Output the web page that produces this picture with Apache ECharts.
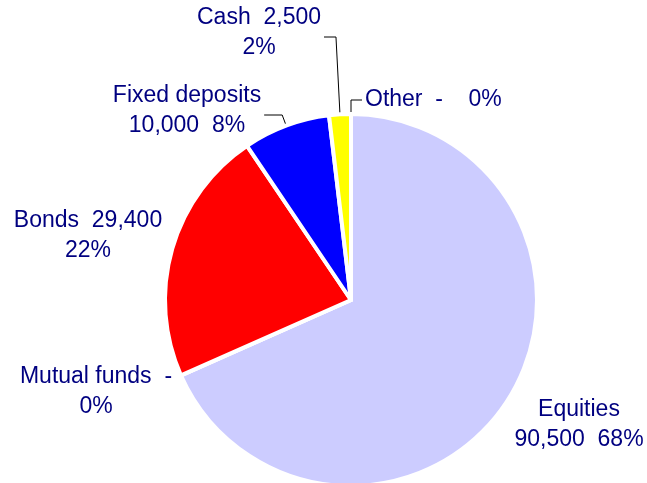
<!DOCTYPE html>
<html>
<head>
<meta charset="utf-8">
<script src="https://cdn.jsdelivr.net/npm/echarts@6/dist/echarts.min.js"></script>
<style>
html,body{margin:0;padding:0;background:#fff;}
#chart{width:647px;height:483px;}
</style>
</head>
<body>
<div id="chart"></div>
<script>
// data
const categories = ['Equities', 'Mutual funds', 'Bonds', 'Fixed deposits', 'Cash', 'Other'];
const amounts = [90500, 0, 29400, 10000, 2500, 0];
// how each label text is laid out ({n} name, {v} value, {p} percent)
const labelForms = ['{n}\n{v}  {p}%', '{n}  {v}\n{p}%', '{n}  {v}\n{p}%', '{n}\n{v}  {p}%', '{n}  {v}\n{p}%', '{n}  {v}    {p}%'];

// styles / layout
const sliceColors = ['#CCCCFF', '#9999FF', '#FF0000', '#0000FF', '#FFFF00', '#00FFFF'];
const labelSpots = [[579, 425, 'center'], [96, 392, 'center'], [88, 236, 'center'], [187, 111, 'center'], [259, 33, 'center'], [365, 100, 'left']];
const leaders = [false, false, false, true, true, true];

function fmtValue(v) {
	return v === 0 ? '-' : v.toLocaleString('en-US');
}

let myChart = echarts.init(document.getElementById('chart'));
myChart.setOption({
	backgroundColor: '#fff',
	animation: false,
	series: [{
		type: 'pie',
		center: [351, 300],
		radius: 186,
		startAngle: 90,
		clockwise: true,
		avoidLabelOverlap: false,
		itemStyle: { borderColor: '#fff', borderWidth: 4 },
		label: {
			show: true,
			position: 'outside',
			color: '#000080',
			fontFamily: 'Liberation Sans, Arial, sans-serif',
			fontSize: 23,
			lineHeight: 30,
			formatter: function (p) {
				return labelForms[p.dataIndex]
					.replace('{n}', p.name)
					.replace('{v}', fmtValue(p.value))
					.replace('{p}', Math.round(p.percent));
			}
		},
		labelLine: { lineStyle: { color: '#000', width: 1 }, length: 10, length2: 10 },
		labelLayout: function (p) {
			const i = p.dataIndex;
			const s = labelSpots[i];
			const out = { x: s[0], y: s[1], align: s[2], verticalAlign: 'middle' };
			if (leaders[i] && p.labelLinePoints) {
				const a = p.labelLinePoints[0];
				if (s[2] === 'left') {
					out.labelLinePoints = [a, [a[0], s[1]], [s[0] - 3, s[1]]];
				} else {
					const right = s[0] + p.labelRect.width / 2 + 3;
					out.labelLinePoints = [a, [a[0] - 4, s[1] + 4], [right, s[1] + 4]];
				}
			}
			return out;
		},
		data: categories.map(function (c, i) {
			return {
				name: c,
				value: amounts[i],
				itemStyle: { color: sliceColors[i] },
				labelLine: { show: leaders[i] }
			};
		})
	}]
});
</script>
</body>
</html>
